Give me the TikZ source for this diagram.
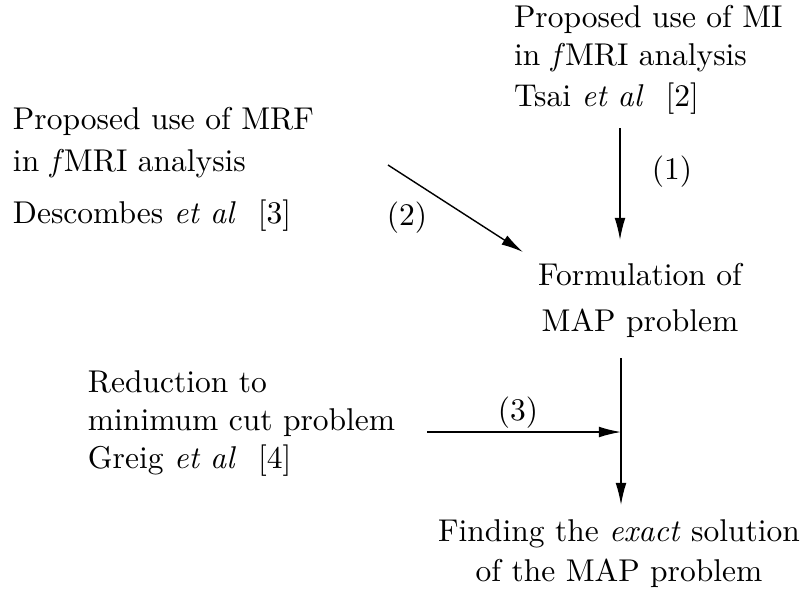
\documentclass[tikz,border=0pt]{standalone}
\usepackage{tikz}
\usetikzlibrary{arrows.meta}
\tikzstyle{map_text} = [inner sep = 0, outer sep = 0]
\tikzstyle{map_block} = [map_text, anchor = north west, align = left]
\tikzstyle{map_step} = [map_text, anchor = north, align = center]
\tikzstyle{map_arrow} = [-{Latex[length = 7pt, width = 3.4pt]}, line width = 0.45pt]
\newcommand{\etal}{\textit{et al}\hspace{7pt}}

\begin{document}
\begin{tikzpicture}[x = 0.3175pt, y = -0.3175pt]
        \useasboundingbox (0, 0) rectangle (804, 596);

        % sources
        \node [style = {map_block}] (mi) at (514, 5)
            {Proposed use of MI\\ in \textit{f}MRI analysis\\[1.3pt] Tsai \etal[2]};
        \node [style = {map_block}] (mrf) at (13, 107)
            {Proposed use of MRF\\[1.3pt] in \textit{f}MRI analysis\\[4.5pt] Descombes \etal[3]};
        \node [style = {map_block}] (cut) at (88, 371)
            {Reduction to\\ minimum cut problem\\ Greig \etal[4]};

        % steps
        \node [style = {map_step}] (map) at (640, 263)
            {Formulation of\\[2.6pt] MAP problem};
        \node [style = {map_step}] (exact) at (619, 520)
            {Finding the \textit{exact} solution\\[0.7pt] of the MAP problem};

        % arrow ends
        \coordinate (mi_out) at (620, 128);
        \coordinate (map_in) at (620, 240);
        \coordinate (mrf_out) at (388, 165);
        \coordinate (map_side) at (523, 252);
        \coordinate (map_out) at (621, 358);
        \coordinate (exact_in) at (621, 505);
        \coordinate (cut_out) at (427, 432);
        \coordinate (join) at (621, 432);

        \draw [style = {map_arrow}] (mi_out) -- (map_in);
        \draw [style = {map_arrow}] (mrf_out) -- (map_side);
        \draw [style = {map_arrow}] (map_out) -- (exact_in);
        \draw [style = {map_arrow}] (cut_out) -- (join);

        % arrow labels
        \node [style = {map_text}] (l1) at (672, 172) {(1)};
        \node [style = {map_text}] (l2) at (407, 218) {(2)};
        \node [style = {map_text}] (l3) at (518, 413) {(3)};
    \end{tikzpicture}
\end{document}
